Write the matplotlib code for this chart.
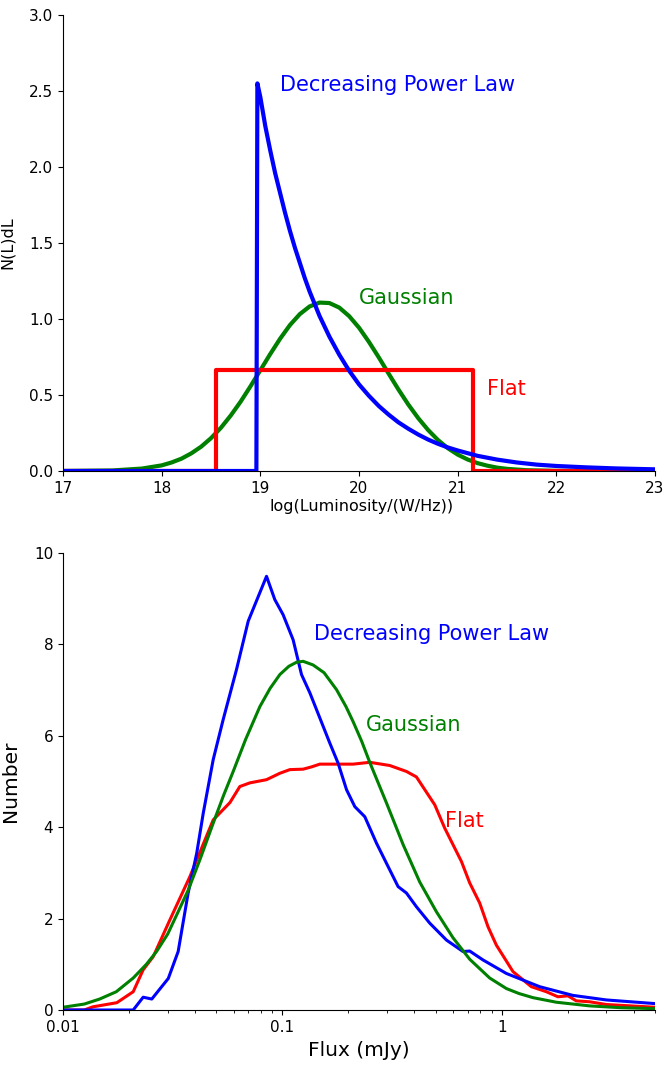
import numpy as np
import matplotlib
matplotlib.use("Agg")
import matplotlib.pyplot as plt
from matplotlib.ticker import FuncFormatter, MultipleLocator

# Top panel: luminosity functions
lum_flat = [17.0, 18.555, 18.555, 21.16, 21.16, 23.0]
n_flat = [0.0, 0.0, 0.667, 0.667, 0.0, 0.0]

lum_gauss = [17.0, 17.5, 17.8, 18.0, 18.1, 18.2, 18.3, 18.4, 18.5, 18.6,
             18.7, 18.8, 18.9, 19.0, 19.1, 19.2, 19.3, 19.4, 19.5, 19.6,
             19.7, 19.8, 19.9, 20.0, 20.1, 20.2, 20.3, 20.4, 20.5, 20.6,
             20.7, 20.8, 20.9, 21.0, 21.1, 21.2, 21.3, 21.4, 21.5, 21.7,
             22.0, 23.0]
n_gauss = [0.0002, 0.0035, 0.016, 0.037, 0.056, 0.081, 0.116, 0.160, 0.216, 0.284,
           0.365, 0.456, 0.557, 0.663, 0.769, 0.870, 0.960, 1.032, 1.083, 1.108,
           1.105, 1.075, 1.019, 0.943, 0.850, 0.748, 0.641, 0.536, 0.437, 0.348,
           0.270, 0.204, 0.150, 0.108, 0.076, 0.052, 0.035, 0.022, 0.014, 0.005,
           0.001, 0.0]

lum_pow = [17.0, 18.96, 18.97, 19.0, 19.05, 19.1, 19.15, 19.2, 19.25, 19.3,
           19.35, 19.4, 19.45, 19.5, 19.55, 19.6, 19.7, 19.8, 19.9, 20.0,
           20.1, 20.2, 20.3, 20.4, 20.5, 20.6, 20.7, 20.8, 20.9, 21.0,
           21.2, 21.4, 21.6, 21.8, 22.0, 22.3, 22.6, 23.0]
n_pow = [0.0, 0.0, 2.55, 2.46, 2.27, 2.11, 1.96, 1.83, 1.70, 1.58,
         1.47, 1.37, 1.27, 1.18, 1.10, 1.02, 0.884, 0.765, 0.66, 0.57,
         0.495, 0.428, 0.371, 0.320, 0.278, 0.240, 0.207, 0.179, 0.155, 0.135,
         0.100, 0.075, 0.056, 0.042, 0.033, 0.024, 0.017, 0.011]

# Bottom panel: flux distributions
flux_pow = [0.01, 0.0209, 0.0232, 0.0254, 0.0302, 0.0335, 0.0372, 0.0407, 0.0436,
            0.0484, 0.0537, 0.0618, 0.0699, 0.0847, 0.0924, 0.1008, 0.112, 0.1223,
            0.1335, 0.1646, 0.1796, 0.1962, 0.214, 0.2376, 0.2687, 0.2984, 0.3371,
            0.3679, 0.4085, 0.47, 0.56, 0.666, 0.715, 0.822, 1.05, 1.49, 2.11, 3.0, 5.0]
num_pow = [0.0, 0.0, 0.28, 0.24, 0.69, 1.28, 2.56, 3.43, 4.31,
           5.48, 6.35, 7.45, 8.51, 9.49, 8.98, 8.65, 8.10, 7.34,
           6.94, 5.84, 5.40, 4.82, 4.45, 4.23, 3.65, 3.21, 2.70,
           2.56, 2.26, 1.90, 1.53, 1.28, 1.29, 1.095, 0.80, 0.51, 0.32, 0.22, 0.14]

flux_flat = [0.01, 0.0125, 0.0137, 0.0176, 0.0209, 0.0232, 0.0258, 0.0307, 0.0379,
             0.0484, 0.0577, 0.064, 0.0711, 0.0847, 0.0974, 0.1082, 0.1244, 0.1359,
             0.1482, 0.2102, 0.2503, 0.3089, 0.3679, 0.4085, 0.4953, 0.5499, 0.6553,
             0.7149, 0.794, 0.8665, 0.9456, 1.126, 1.365, 1.598, 1.804, 2.005, 2.188,
             2.517, 3.0, 5.0]
num_flat = [0.0, 0.0, 0.07, 0.16, 0.40, 0.88, 1.17, 1.97, 2.92,
            4.16, 4.54, 4.89, 4.97, 5.04, 5.18, 5.26, 5.27, 5.32,
            5.38, 5.38, 5.42, 5.35, 5.22, 5.10, 4.49, 3.98, 3.25,
            2.78, 2.34, 1.82, 1.42, 0.84, 0.51, 0.40, 0.29, 0.31, 0.20,
            0.18, 0.12, 0.06]

flux_gauss = [0.01, 0.0125, 0.0147, 0.0175, 0.0209, 0.024, 0.0267, 0.03, 0.0335,
              0.0372, 0.0421, 0.0484, 0.054, 0.0597, 0.068, 0.079, 0.088, 0.0974,
              0.107, 0.1161, 0.1244, 0.1381, 0.155, 0.1766, 0.195, 0.2102, 0.23,
              0.2503, 0.2984, 0.3553, 0.4231, 0.504, 0.6, 0.715, 0.8816, 1.05,
              1.2, 1.389, 1.775, 2.517, 3.5, 5.0]
num_gauss = [0.06, 0.13, 0.24, 0.40, 0.70, 1.00, 1.28, 1.66, 2.15,
             2.62, 3.29, 4.09, 4.70, 5.22, 5.92, 6.64, 7.04, 7.34,
             7.52, 7.61, 7.63, 7.55, 7.38, 7.01, 6.64, 6.31, 5.88,
             5.42, 4.53, 3.62, 2.80, 2.15, 1.58, 1.11, 0.70, 0.47,
             0.36, 0.27, 0.17, 0.09, 0.05, 0.03]

fig = plt.figure(figsize=(6.67, 10.66), dpi=100)

# --- top panel ---
ax1 = fig.add_axes([63/667, (1066-471)/1066, 592/667, 456/1066])
ax1.plot(lum_gauss, n_gauss, color="green", lw=3)
ax1.plot(lum_flat, n_flat, color="red", lw=3)
ax1.plot(lum_pow, n_pow, color="blue", lw=3)
ax1.set_xlim(17, 23)
ax1.set_ylim(0, 3)
ax1.yaxis.set_major_locator(MultipleLocator(0.5))
ax1.yaxis.set_major_formatter(FuncFormatter(lambda v, p: "%.1f" % v))
ax1.set_xlabel("log(Luminosity/(W/Hz))", fontsize=11.5)
ax1.set_ylabel("N(L)dL", fontsize=11.5)
ax1.xaxis.set_label_coords(0.505, -0.062)
ax1.yaxis.set_label_coords(-0.081, 0.5)
ax1.text(19.2, 2.5, "Decreasing Power Law", color="blue", fontsize=15)
ax1.text(20.0, 1.1, "Gaussian", color="green", fontsize=15)
ax1.text(21.3, 0.5, "Flat", color="red", fontsize=15)

# --- bottom panel ---
ax2 = fig.add_axes([63/667, (1066-1010)/1066, 592/667, 457/1066])
ax2.plot(flux_flat, num_flat, color="red", lw=2.2)
ax2.plot(flux_pow, num_pow, color="blue", lw=2.2)
ax2.plot(flux_gauss, num_gauss, color="green", lw=2.2)
ax2.set_xscale("log")
ax2.set_xlim(0.01, 5)
ax2.set_ylim(0, 10)
ax2.xaxis.set_major_formatter(FuncFormatter(lambda v, p: "%g" % v))
ax2.set_xlabel("Flux (mJy)", fontsize=14.5)
ax2.set_ylabel("Number", fontsize=14.5)
ax2.xaxis.set_label_coords(0.5, -0.068)
ax2.yaxis.set_label_coords(-0.073, 0.5)
ax2.text(0.14, 8.1, "Decreasing Power Law", color="blue", fontsize=15)
ax2.text(0.24, 6.1, "Gaussian", color="green", fontsize=15)
ax2.text(0.55, 4.0, "Flat", color="red", fontsize=15)

for ax in (ax1, ax2):
    ax.spines["top"].set_visible(False)
    ax.spines["right"].set_visible(False)
    ax.tick_params(labelsize=11)

fig.savefig("out.png", dpi=100)
